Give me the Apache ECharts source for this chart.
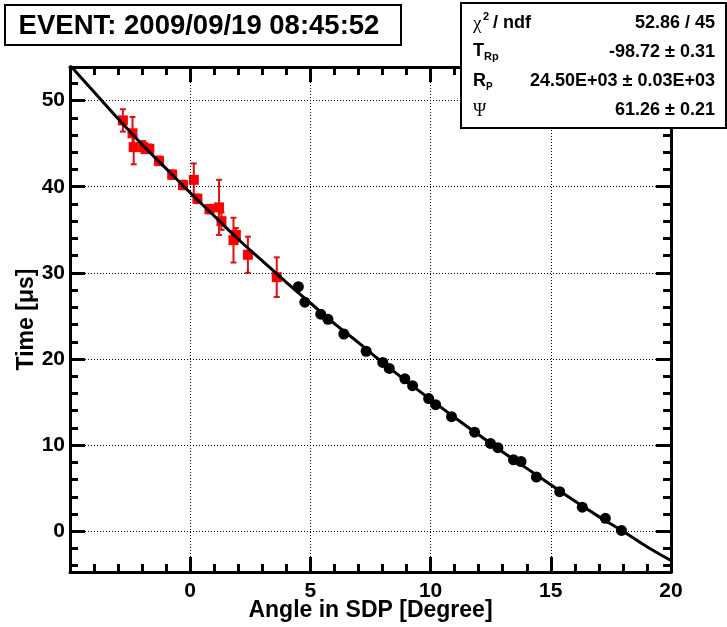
<!DOCTYPE html>
<html><head><meta charset="utf-8">
<script src="https://cdn.jsdelivr.net/npm/echarts@6/dist/echarts.min.js"></script>
<style>html,body{margin:0;padding:0;background:#fff}#c{width:727px;height:627px}</style>
</head><body><div id="c"></div>
<script>
// ---- data ----
const blackX = [4.50, 4.77, 5.43, 5.73, 6.39, 7.32, 8.01, 8.28, 8.93, 9.25, 9.92, 10.21, 10.87, 11.83, 12.49, 12.80, 13.45, 13.76, 14.40, 15.37, 16.31, 17.27, 17.94];
const blackY = [28.4, 26.6, 25.2, 24.6, 22.9, 20.9, 19.6, 18.9, 17.7, 16.9, 15.4, 14.7, 13.3, 11.5, 10.2, 9.7, 8.3, 8.1, 6.3, 4.6, 2.8, 1.5, 0.1];
const redX = [-2.80, -2.40, -2.35, -1.95, -1.70, -1.30, -0.75, -0.30, 0.15, 0.30, 0.80, 1.20, 1.30, 1.80, 1.90, 2.40, 3.60];
const redY = [47.7, 46.2, 44.6, 44.6, 44.4, 43.0, 41.4, 40.2, 40.8, 38.6, 37.4, 37.6, 36.0, 33.8, 34.4, 32.1, 29.5];
const redErr = [1.3, 1.9, 2.0, 0.7, 0.5, 0.5, 0.5, 0.5, 1.9, 0.5, 0.5, 3.2, 1.0, 2.6, 0.8, 2.1, 2.3];
const fitX = [-5, -4, -3, -2, -1, 0, 1, 2, 3, 4, 5, 6, 7, 8, 9, 10, 11, 12, 13, 14, 15, 16, 17, 18, 19, 20];
const fitY = [54.1, 51.0, 47.9, 44.9, 42.1, 39.3, 36.6, 33.9, 31.4, 28.9, 26.5, 24.1, 21.9, 19.6, 17.4, 15.3, 13.2, 11.2, 9.2, 7.3, 5.4, 3.5, 1.7, 0.0, -1.8, -3.4];
const yMajorTicks = [0, 10, 20, 30, 40, 50];
const yMinorTicks = [-4, -2, 2, 4, 6, 8, 12, 14, 16, 18, 22, 24, 26, 28, 32, 34, 36, 38, 42, 44, 46, 48, 52];
const gridXLines = [0, 5, 10, 15];
const gridYLines = [0, 10, 20, 30, 40, 50];
const titleText = 'EVENT: 2009/09/19 08:45:52';
const statValues = ['52.86 / 45', '-98.72 \u00b1 0.31', '24.50E+03 \u00b1 0.03E+03', '61.26 \u00b1 0.21'];

const FONT = '"Liberation Sans", Arial, Helvetica, sans-serif';
const SERIF = '"Liberation Serif", "DejaVu Serif", serif';

const chart = echarts.init(document.getElementById('c'), null, {renderer: 'canvas'});

const axisLine = {show: true, onZero: false, lineStyle: {color: '#000', width: 3}};
const labelStyle = {color: '#000', fontSize: 21, fontWeight: 'bold', fontFamily: FONT};
const tickStyle = {color: '#000', width: 3};
const nameStyle = {color: '#000', fontSize: 23, fontWeight: 'bold', fontFamily: FONT};

const xBase = {
  type: 'value', min: -5, max: 20, interval: 5,
  axisLine: axisLine,
  axisTick: {show: true, inside: true, length: 15, lineStyle: tickStyle},
  minorTick: {show: true, splitNumber: 5, length: 8, lineStyle: tickStyle},
  splitLine: {show: false}
};
const yBase = {
  type: 'value', min: -4.73, max: 53.9,
  axisLine: axisLine,
  splitLine: {show: false}
};

const redData = redX.map((x, i) => [x, redY[i], redErr[i]]);

chart.setOption({
  animation: false,
  backgroundColor: '#fff',
  grid: {left: 70, right: 56, top: 67, bottom: 55, containLabel: false, outerBoundsMode: 'none'},
  xAxis: [
    Object.assign({}, xBase, {
      position: 'bottom',
      axisLabel: Object.assign({}, labelStyle, {margin: 9, showMinLabel: true, showMaxLabel: true,
        formatter: v => (v < -1 ? '' : String(v))}),
      name: 'Angle in SDP [Degree]', nameLocation: 'middle', nameGap: 27, nameMoveOverlap: false,
      nameTextStyle: nameStyle
    }),
    Object.assign({}, xBase, {position: 'top', axisLabel: {show: false}})
  ],
  yAxis: [
    Object.assign({}, yBase, {
      position: 'left',
      axisTick: {show: true, inside: true, length: 15, lineStyle: tickStyle, customValues: yMajorTicks},
      axisLabel: Object.assign({}, labelStyle, {margin: 5, customValues: yMajorTicks}),
      name: 'Time [\u03bcs]', nameLocation: 'middle', nameGap: 32, nameMoveOverlap: false,
      nameTextStyle: nameStyle
    }),
    Object.assign({}, yBase, {
      position: 'left',
      axisTick: {show: true, inside: true, length: 8, lineStyle: tickStyle, customValues: yMinorTicks},
      axisLabel: {show: false}
    }),
    Object.assign({}, yBase, {
      position: 'right',
      axisTick: {show: true, inside: true, length: 15, lineStyle: tickStyle, customValues: yMajorTicks},
      axisLabel: {show: false, customValues: yMajorTicks}
    }),
    Object.assign({}, yBase, {
      position: 'right',
      axisTick: {show: true, inside: true, length: 8, lineStyle: tickStyle, customValues: yMinorTicks},
      axisLabel: {show: false}
    })
  ],
  series: [
    {
      type: 'line', data: [], xAxisIndex: 0, yAxisIndex: 0, z: 1, silent: true,
      markLine: {
        silent: true, symbol: ['none', 'none'], label: {show: false},
        lineStyle: {color: '#000', width: 1, type: [1, 2]},
        emphasis: {disabled: true},
        data: gridXLines.map(v => ({xAxis: v})).concat(gridYLines.map(v => ({yAxis: v})))
      }
    },
    {
      type: 'custom', xAxisIndex: 0, yAxisIndex: 0, z: 3, data: redData,
      renderItem: function (params, api) {
        const x = api.value(0), y = api.value(1), e = api.value(2);
        const t = api.coord([x, y + e]);
        const b = api.coord([x, y - e]);
        const s = {stroke: '#dd1111', lineWidth: 2};
        return {type: 'group', children: [
          {type: 'line', shape: {x1: t[0], y1: t[1], x2: b[0], y2: b[1]}, style: s},
          {type: 'line', shape: {x1: t[0] - 3, y1: t[1], x2: t[0] + 3, y2: t[1]}, style: s},
          {type: 'line', shape: {x1: b[0] - 3, y1: b[1], x2: b[0] + 3, y2: b[1]}, style: s}
        ]};
      }
    },
    {
      type: 'scatter', xAxisIndex: 0, yAxisIndex: 0, z: 4,
      symbol: 'rect', symbolSize: 10, itemStyle: {color: '#ff0000', opacity: 1},
      data: redX.map((x, i) => [x, redY[i]])
    },
    {
      type: 'line', xAxisIndex: 0, yAxisIndex: 0, z: 5, smooth: true, showSymbol: false,
      lineStyle: {color: '#000', width: 3}, clip: true,
      data: fitX.map((x, i) => [x, fitY[i]])
    },
    {
      type: 'scatter', xAxisIndex: 0, yAxisIndex: 0, z: 6,
      symbol: 'circle', symbolSize: 11, itemStyle: {color: '#000', opacity: 1},
      data: blackX.map((x, i) => [x, blackY[i]])
    }
  ],
  graphic: [
    {type: 'rect', z: 100, shape: {x: 5, y: 5, width: 396, height: 40},
      style: {fill: '#fff', stroke: '#000', lineWidth: 2}},
    {type: 'text', z: 101, x: 199, y: 26,
      style: {text: titleText, font: 'bold 27.5px ' + FONT, fill: '#000', align: 'center', verticalAlign: 'middle'}},
    {type: 'rect', z: 100, shape: {x: 461, y: 3, width: 265, height: 125},
      style: {fill: '#fff', stroke: '#000', lineWidth: 2}},
    {type: 'text', z: 101, x: 473, y: 24, style: {text: '\u03c7', font: '19px ' + SERIF, fill: '#000', verticalAlign: 'middle'}},
    {type: 'text', z: 101, x: 483, y: 17, style: {text: '2', font: 'bold 11px ' + FONT, fill: '#000', verticalAlign: 'middle'}},
    {type: 'text', z: 101, x: 493, y: 23, style: {text: '/ ndf', font: 'bold 18px ' + FONT, fill: '#000', verticalAlign: 'middle'}},
    {type: 'text', z: 101, x: 473, y: 51, style: {text: 'T', font: 'bold 18px ' + FONT, fill: '#000', verticalAlign: 'middle'}},
    {type: 'text', z: 101, x: 484, y: 57, style: {text: 'Rp', font: 'bold 11px ' + FONT, fill: '#000', verticalAlign: 'middle'}},
    {type: 'text', z: 101, x: 473, y: 81, style: {text: 'R', font: 'bold 18px ' + FONT, fill: '#000', verticalAlign: 'middle'}},
    {type: 'text', z: 101, x: 486, y: 87, style: {text: 'P', font: 'bold 10px ' + FONT, fill: '#000', verticalAlign: 'middle'}},
    {type: 'text', z: 101, x: 473, y: 111, style: {text: '\u03a8', font: '18px ' + SERIF, fill: '#000', verticalAlign: 'middle'}}
  ].concat(statValues.map((t, i) => ({
    type: 'text', z: 101, x: 715, y: [23, 52, 81, 110][i],
    style: {text: t, font: 'bold 18px ' + FONT, fill: '#000', align: 'right', verticalAlign: 'middle'}
  })))
});
</script>
</body></html>
